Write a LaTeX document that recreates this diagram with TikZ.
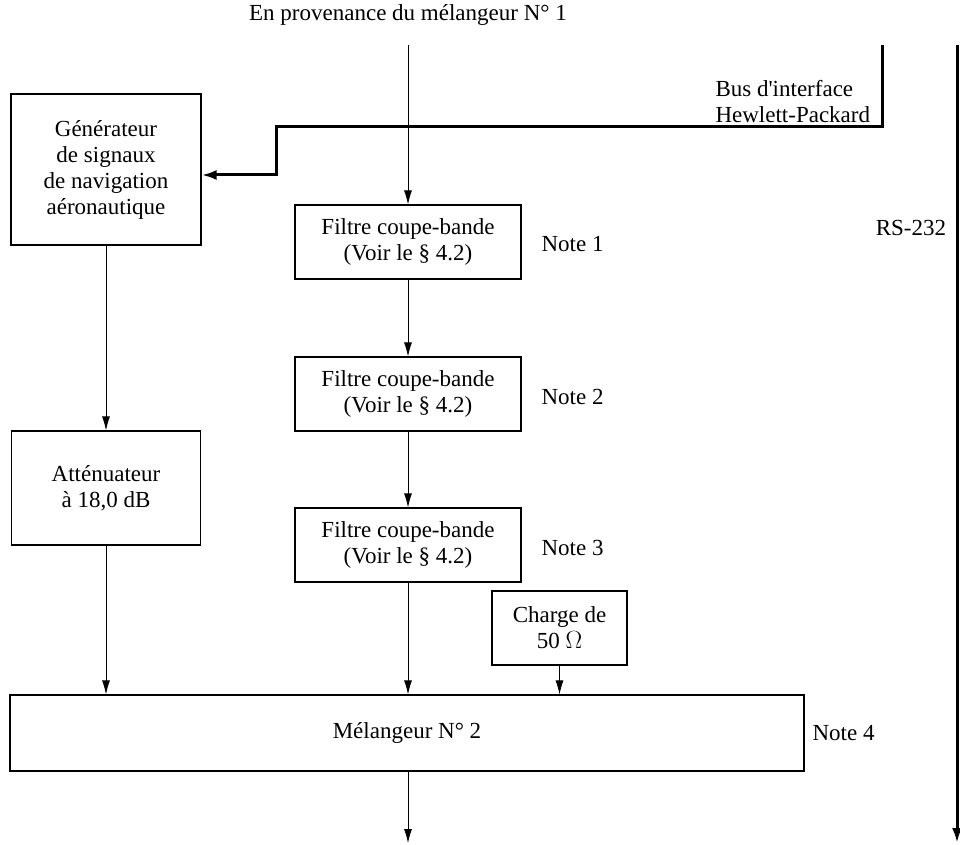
\documentclass[tikz,border=0pt]{standalone}
\usepackage{fontspec}
\setmainfont{Liberation Serif}
\usetikzlibrary{arrows.meta}

\begin{document}
\begin{tikzpicture}[x=1pt, y=-1pt,
        every node/.style={font=\fontsize{23}{26}\selectfont},
        blk/.style={draw, line width=1.2pt, align=center, inner sep=0pt},
        flow/.style={line width=0.8pt, -{Latex[length=14pt, width=8pt]}},
        bus/.style={line width=3pt, -{Latex[length=15pt, width=10pt]}}]
        \useasboundingbox (0,0) rectangle (960,845);

        % Blocks
        \node[blk, minimum width=190pt, minimum height=151pt] (gen) at (106,169.5)
            {Générateur\\de signaux\\de navigation\\aéronautique};
        \node[blk, minimum width=189pt, minimum height=114pt] (att) at (106,488)
            {Atténuateur\\à 18,0 dB};
        \node[blk, minimum width=226pt, minimum height=74pt] (fa) at (408,242)
            {Filtre coupe-bande\\(Voir le § 4.2)};
        \node[blk, minimum width=226pt, minimum height=74pt] (fb) at (408,394)
            {Filtre coupe-bande\\(Voir le § 4.2)};
        \node[blk, minimum width=226pt, minimum height=74pt] (fc) at (408,545)
            {Filtre coupe-bande\\(Voir le § 4.2)};
        \node[blk, minimum width=135pt, minimum height=74pt] (load) at (559.5,628)
            {Charge de\\50 $\Omega$};
        \node[blk, minimum width=794pt, minimum height=76pt] (mix) at (407,733)
            {Mélangeur N° 2};

        % Labels
        \node (src) at (408,15) {En provenance du mélangeur N° 1};
        \node[anchor=west, align=left] (hpib) at (712,102) {Bus d\textquotesingle interface\\Hewlett-Packard};
        \node (rs) at (911,228) {RS-232};
        \node[anchor=west] (na) at (538,244) {Note 1};
        \node[anchor=west] (nb) at (538,397) {Note 2};
        \node[anchor=west] (nc) at (538,548) {Note 3};
        \node[anchor=west] (nd) at (809,733) {Note 4};

        % Signal path
        \coordinate (in) at (408,45);
        \coordinate (out) at (408,843);
        \draw[flow] (in) -- (fa.north);
        \draw[flow] (fa) -- (fb);
        \draw[flow] (fb) -- (fc);
        \draw[flow] (fc) -- (fc.south |- mix.north);
        \draw[flow] (load) -- (load.south |- mix.north);
        \draw[flow] (gen) -- (att);
        \draw[flow] (att) -- (att.south |- mix.north);
        \draw[flow] (mix.south -| out) -- (out);

        % Interface buses
        \coordinate (hpTop) at (882,45);
        \coordinate (hpBend) at (276,175);
        \draw[bus] (hpTop) -- (882,127) -- (276,127) -- (hpBend) -- (gen.east |- hpBend);
        \coordinate (rsTop) at (957,45);
        \coordinate (rsEnd) at (957,843);
        \draw[bus] (rsTop) -- (rsEnd);
    \end{tikzpicture}
\end{document}
